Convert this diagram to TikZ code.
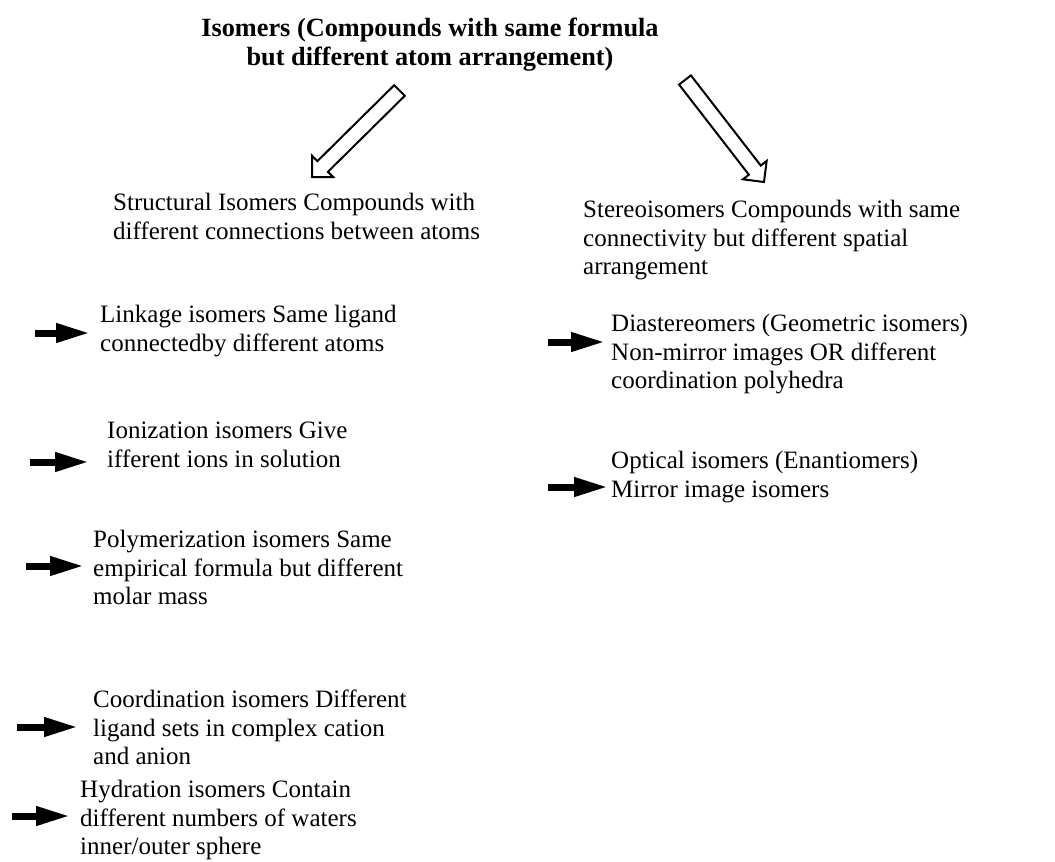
\documentclass[tikz,border=0pt]{standalone}
\usepackage{fontspec}
\setmainfont{Liberation Serif}
\usepackage{tikz}
\usetikzlibrary{arrows.meta,calc}

% hollow block arrow from #1 to #2
\newcommand{\blockarrow}[2]{%
  \coordinate (hb) at ($(#2)!15pt!(#1)$);
  \draw[hollow] ($(#1)!7.5pt!90:(#2)$) -- ($(hb)!7.5pt!90:(#2)$) -- ($(hb)!15pt!90:(#2)$)
    -- (#2) -- ($(hb)!15pt!-90:(#2)$) -- ($(hb)!7.5pt!-90:(#2)$) -- ($(#1)!7.5pt!-90:(#2)$) -- cycle;}

\begin{document}
\begin{tikzpicture}[
  x=1pt, y=-1pt,
  txt/.style={anchor=north west, align=left, inner sep=0pt, font=\fontsize{25}{28.5}\selectfont},
  head/.style={anchor=north, align=center, inner sep=0pt, font=\fontsize{26.3}{28.5}\selectfont\bfseries},
  hollow/.style={draw=black, line width=2pt, fill=white, line join=miter},
  tick/.style={-{Triangle[length=34pt, width=18pt]}, line width=7pt}
]
\useasboundingbox (0,0) rectangle (1055,862);

\node[head] (iso) at (430,18) {Isomers (Compounds with same formula\\but different atom arrangement)};

\node[txt] (str) at (113,193) {Structural Isomers Compounds with\\different connections between atoms};
\node[txt] (ste) at (583,200) {Stereoisomers Compounds with same\\connectivity but different spatial\\arrangement};

% --- block arrows --------------------------------------------------------
\coordinate (a1s) at (399.5,90.5);
\coordinate (a1t) at (312,177);
\coordinate (a2s) at (685,80);
\coordinate (a2t) at (764,182);
\blockarrow{a1s}{a1t}
\blockarrow{a2s}{a2t}

% --- structural ----------------------------------------------------------
\node[txt] (lnk) at (100,305) {Linkage isomers Same ligand\\connectedby different atoms};
\node[txt] (ion) at (107,422) {Ionization isomers Give\\ifferent ions in solution};
\node[txt] (pol) at (93,530) {Polymerization isomers Same\\empirical formula but different\\molar mass};
\node[txt] (crd) at (93,690) {Coordination isomers Different\\ligand sets in complex cation\\and anion};
\node[txt] (hyd) at (80,780) {Hydration isomers Contain\\different numbers of waters\\inner/outer sphere};

\coordinate (lnk-s) at (35,333);  \coordinate (lnk-t) at (90,333);
\coordinate (ion-s) at (30,462);  \coordinate (ion-t) at (89,462);
\coordinate (pol-s) at (26,566);  \coordinate (pol-t) at (84,566);
\coordinate (crd-s) at (17,727);  \coordinate (crd-t) at (78,727);
\coordinate (hyd-s) at (12,816);  \coordinate (hyd-t) at (70,816);

\draw[tick] (lnk-s) -- (lnk-t);
\draw[tick] (ion-s) -- (ion-t);
\draw[tick] (pol-s) -- (pol-t);
\draw[tick] (crd-s) -- (crd-t);
\draw[tick] (hyd-s) -- (hyd-t);

% --- stereo --------------------------------------------------------------
\node[txt] (dia) at (611,314) {Diastereomers (Geometric isomers)\\Non-mirror images OR different\\coordination polyhedra};
\node[txt] (opt) at (611,451) {Optical isomers (Enantiomers)\\Mirror image isomers};

\coordinate (dia-s) at (548,342);  \coordinate (dia-t) at (605,342);
\coordinate (opt-s) at (548,487);  \coordinate (opt-t) at (608,487);

\draw[tick] (dia-s) -- (dia-t);
\draw[tick] (opt-s) -- (opt-t);

\end{tikzpicture}
\end{document}
